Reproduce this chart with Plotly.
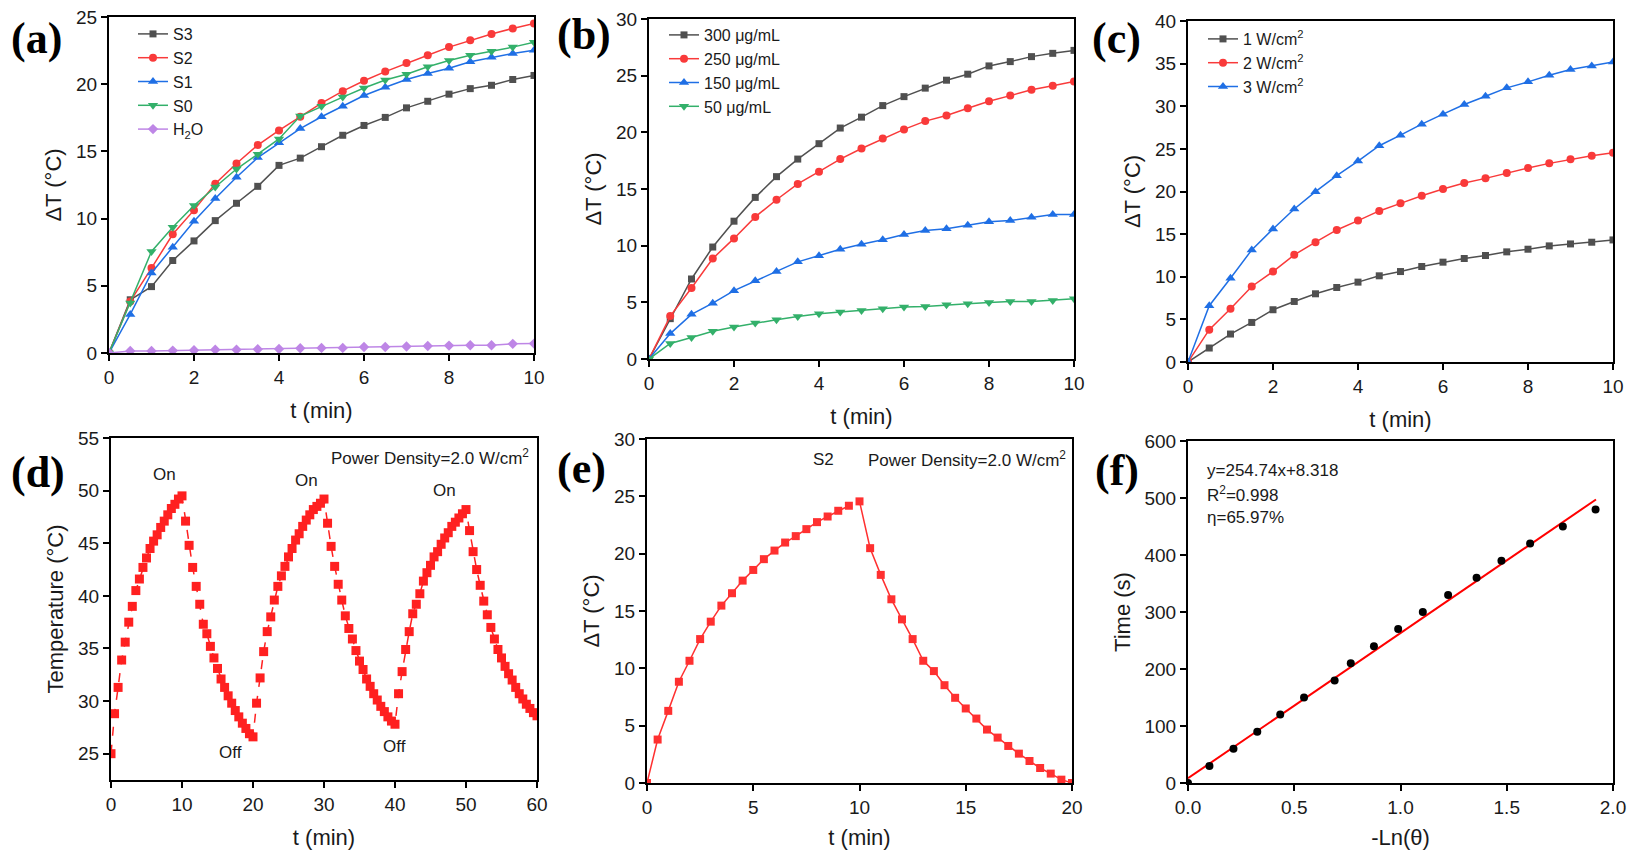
import plotly.graph_objects as go

# page body adds an 8 px margin, so the figure is placed at (8, 8) on screen
OFF = 8
W, H = 1635 - OFF, 858 - 2 * OFF

# ---- (a) dT vs time for samples ----
t_a = [0, 0.5, 1, 1.5, 2, 2.5, 3, 3.5, 4, 4.5, 5, 5.5, 6, 6.5, 7, 7.5, 8, 8.5, 9, 9.5, 10]
s3 = [0, 3.96, 4.94, 6.88, 8.34, 9.85, 11.14, 12.4, 13.96, 14.5, 15.35, 16.2, 16.93, 17.53, 18.24, 18.73, 19.26, 19.67, 19.92, 20.35, 20.65]
s2 = [0, 3.84, 6.32, 8.83, 10.63, 12.6, 14.1, 15.47, 16.56, 17.58, 18.6, 19.48, 20.26, 20.94, 21.57, 22.15, 22.76, 23.27, 23.74, 24.15, 24.51]
s1 = [0, 2.87, 5.96, 7.86, 9.8, 11.5, 13.08, 14.54, 15.64, 16.7, 17.58, 18.36, 19.16, 19.77, 20.35, 20.79, 21.18, 21.67, 22.0, 22.28, 22.52]
s0 = [0, 3.72, 7.56, 9.36, 10.97, 12.35, 13.69, 14.79, 15.93, 17.63, 18.36, 19.04, 19.72, 20.31, 20.74, 21.3, 21.77, 22.15, 22.45, 22.76, 23.13]
h2o = [0, 0.15, 0.15, 0.18, 0.2, 0.25, 0.25, 0.28, 0.3, 0.35, 0.38, 0.38, 0.45, 0.45, 0.48, 0.52, 0.55, 0.58, 0.58, 0.68, 0.7]

# ---- (b) concentrations ----
c300 = [0, 3.56, 7.06, 9.88, 12.16, 14.26, 16.09, 17.64, 19.0, 20.38, 21.34, 22.36, 23.15, 23.9, 24.6, 25.13, 25.86, 26.24, 26.68, 26.97, 27.23]
c250 = [0, 3.79, 6.27, 8.86, 10.64, 12.54, 14.05, 15.45, 16.53, 17.64, 18.57, 19.45, 20.26, 20.99, 21.49, 22.13, 22.74, 23.24, 23.76, 24.11, 24.49]
c150 = [0, 2.24, 3.94, 4.93, 6.03, 6.91, 7.73, 8.57, 9.1, 9.68, 10.12, 10.52, 10.99, 11.34, 11.49, 11.81, 12.1, 12.22, 12.51, 12.74, 12.74]
c50 = [0, 1.37, 1.9, 2.45, 2.83, 3.18, 3.47, 3.76, 3.99, 4.14, 4.29, 4.43, 4.58, 4.64, 4.78, 4.87, 4.99, 5.07, 5.07, 5.16, 5.31]

# ---- (c) power densities ----
p1 = [0, 1.64, 3.28, 4.64, 6.13, 7.1, 8.0, 8.74, 9.37, 10.11, 10.61, 11.2, 11.71, 12.14, 12.49, 12.92, 13.23, 13.62, 13.85, 14.05, 14.32]
p2 = [0, 3.79, 6.24, 8.86, 10.61, 12.57, 14.05, 15.49, 16.59, 17.72, 18.61, 19.51, 20.29, 21.0, 21.54, 22.17, 22.75, 23.3, 23.77, 24.2, 24.55]
p3 = [0, 6.6, 9.83, 13.15, 15.61, 17.95, 19.98, 21.85, 23.57, 25.37, 26.61, 27.9, 29.07, 30.2, 31.18, 32.16, 32.86, 33.64, 34.3, 34.73, 35.2]

# ---- (d) on/off cycles, every 0.5 min ----
t_d = [i * 0.5 for i in range(121)]
temp_d = [
    25.0, 28.8, 31.3, 33.9, 35.6, 37.5, 39.0, 40.5, 41.6, 42.7, 43.6, 44.5, 45.2, 45.8, 46.5, 47.1, 47.7, 48.3, 48.7, 49.2, 49.5,
    47.1, 44.8, 42.7, 40.9, 39.2, 37.3, 36.4, 35.2, 34.1, 33.1, 32.1, 31.3, 30.5, 29.8, 29.1, 28.5, 27.9, 27.4, 26.9, 26.6,
    29.8, 32.2, 34.7, 36.6, 38.0, 39.6, 40.9, 41.9, 42.8, 43.7, 44.5, 45.3, 45.9, 46.6, 47.2, 47.7, 48.2, 48.5, 48.8, 49.2,
    46.9, 44.7, 42.8, 41.1, 39.6, 38.1, 36.9, 35.9, 34.8, 33.8, 33.0, 32.1, 31.4, 30.7, 30.1, 29.5, 29.0, 28.5, 28.1, 27.8,
    30.7, 32.8, 34.9, 36.6, 38.3, 39.2, 40.2, 41.4, 42.2, 42.9, 43.7, 44.2, 44.9, 45.5, 46.0, 46.6, 47.0, 47.4, 47.8, 48.2,
    46.2, 44.2, 42.5, 41.0, 39.5, 38.2, 37.0, 35.9, 34.9, 34.1, 33.3, 32.6, 32.0, 31.3, 30.7, 30.2, 29.7, 29.3, 28.9, 28.6,
]
on_x = [7.6, 27.5, 47.0]
on_y = [51.5, 51.0, 50.0]
off_x = [16.9, 39.9]
off_y = [25.1, 25.7]

# ---- (e) heating / cooling of S2 ----
t_heat = [0, 0.5, 1, 1.5, 2, 2.5, 3, 3.5, 4, 4.5, 5, 5.5, 6, 6.5, 7, 7.5, 8, 8.5, 9, 9.5]
dt_heat = [0, 3.79, 6.29, 8.83, 10.66, 12.55, 14.07, 15.47, 16.55, 17.65, 18.58, 19.52, 20.27, 20.97, 21.53, 22.14, 22.75, 23.24, 23.74, 24.18]
t_cool = [10, 10.5, 11, 11.5, 12, 12.5, 13, 13.5, 14, 14.5, 15, 15.5, 16, 16.5, 17, 17.5, 18, 18.5, 19, 19.5, 20]
dt_cool = [24.56, 20.48, 18.15, 16.02, 14.27, 12.55, 10.66, 9.76, 8.53, 7.43, 6.5, 5.62, 4.66, 3.96, 3.23, 2.56, 1.92, 1.31, 0.82, 0.29, 0.0]

# ---- (f) time vs -ln(theta) ----
ln_theta = [0, 0.101, 0.214, 0.326, 0.434, 0.546, 0.690, 0.766, 0.875, 0.989, 1.105, 1.224, 1.358, 1.475, 1.610, 1.764, 1.918]
time_s = [0, 30, 60, 90, 120, 150, 180, 210, 240, 270, 300, 330, 360, 390, 420, 450, 480]
slope, intercept = 254.74, 8.318
fit_x = [0, 1.92]

GREY = "#505050"
RED = "#F93A3A"
BLUE = "#1F6FE5"
GREEN = "#33B06A"
PURPLE = "#BE86E6"
FONT = "Liberation Sans"

fig = go.Figure()


def add_series(x, y, name, color, symbol, size, xa, ya, legend=None, dash="solid"):
    fig.add_trace(go.Scatter(
        x=x, y=y, name=name, mode="lines+markers",
        line=dict(color=color, width=1.5, dash=dash),
        marker=dict(symbol=symbol, size=size, color=color),
        xaxis=xa, yaxis=ya, legend=legend or "legend",
        showlegend=legend is not None,
    ))


add_series(t_a, s3, "S3", GREY, "square", 7, "x", "y", "legend")
add_series(t_a, s2, "S2", RED, "circle", 8, "x", "y", "legend")
add_series(t_a, s1, "S1", BLUE, "triangle-up", 9, "x", "y", "legend")
add_series(t_a, s0, "S0", GREEN, "triangle-down", 9, "x", "y", "legend")
add_series(t_a, h2o, "H<sub>2</sub>O", PURPLE, "diamond", 8, "x", "y", "legend")

add_series(t_a, c300, "300 μg/mL", GREY, "square", 7, "x2", "y2", "legend2")
add_series(t_a, c250, "250 μg/mL", RED, "circle", 8, "x2", "y2", "legend2")
add_series(t_a, c150, "150 μg/mL", BLUE, "triangle-up", 9, "x2", "y2", "legend2")
add_series(t_a, c50, "50 μg/mL", GREEN, "triangle-down", 9, "x2", "y2", "legend2")

add_series(t_a, p1, "1 W/cm<sup>2</sup>", GREY, "square", 7, "x3", "y3", "legend3")
add_series(t_a, p2, "2 W/cm<sup>2</sup>", RED, "circle", 8, "x3", "y3", "legend3")
add_series(t_a, p3, "3 W/cm<sup>2</sup>", BLUE, "triangle-up", 9, "x3", "y3", "legend3")

add_series(t_d, temp_d, "cycle", "#FF2020", "square", 9, "x4", "y4", dash="dash")
add_series(t_heat, dt_heat, "heat", "#FF3030", "square", 8, "x5", "y5")
add_series(t_cool, dt_cool, "cool", "#FF3030", "square", 8, "x5", "y5")

fig.add_trace(go.Scatter(
    x=fit_x, y=[slope * v + intercept for v in fit_x], mode="lines",
    line=dict(color="#FF0000", width=2), xaxis="x6", yaxis="y6", showlegend=False,
))
fig.add_trace(go.Scatter(
    x=ln_theta, y=time_s, mode="markers",
    marker=dict(symbol="circle", size=8, color="black"),
    xaxis="x6", yaxis="y6", showlegend=False,
))


# screen pixel -> paper fraction
def sx(px):
    return (px - OFF) / W


def sy(py):
    return 1 - (py - OFF) / H


def axis(dom, rng, dtick, title, anchor, letter, fmt=None):
    d = dict(
        domain=dom, range=rng, dtick=dtick, anchor=anchor, automargin=False,
        showline=True, linecolor="black", linewidth=2, mirror=True,
        ticks="outside", ticklen=6, tickwidth=1.5, tickcolor="black",
        showgrid=False, zeroline=False, ticklabeloverflow="allow",
        tickfont=dict(family=FONT, size=19, color="#1a1a1a"),
        title=dict(text=title, font=dict(family=FONT, size=22, color="#1a1a1a"),
                   standoff=16 if letter == "x" else 8),
    )
    if fmt:
        d["tickformat"] = fmt
    return d


def xdom(left, right):
    return [sx(left), sx(right)]


def ydom(top, bottom):
    return [sy(bottom), sy(top)]


layout = dict(
    width=W, height=H, margin=dict(l=0, r=0, t=0, b=0, autoexpand=False),
    paper_bgcolor="white", plot_bgcolor="white",
    font=dict(family=FONT, color="#1a1a1a"),
    xaxis=axis(xdom(109, 534), [0, 10], 2, "t (min)", "y", "x"),
    yaxis=axis(ydom(17, 353), [0, 25], 5, "ΔT (°C)", "x", "y"),
    xaxis2=axis(xdom(649, 1074), [0, 10], 2, "t (min)", "y2", "x"),
    yaxis2=axis(ydom(19, 359), [0, 30], 5, "ΔT (°C)", "x2", "y"),
    xaxis3=axis(xdom(1188, 1613), [0, 10], 2, "t (min)", "y3", "x"),
    yaxis3=axis(ydom(21, 362), [0, 40], 5, "ΔT (°C)", "x3", "y"),
    xaxis4=axis(xdom(111, 537), [0, 60], 10, "t (min)", "y4", "x"),
    yaxis4=axis(ydom(438, 780), [22.5, 55], 5, "Temperature (°C)", "x4", "y"),
    xaxis5=axis(xdom(647, 1072), [0, 20], 5, "t (min)", "y5", "x"),
    yaxis5=axis(ydom(439, 783), [0, 30], 5, "ΔT (°C)", "x5", "y"),
    xaxis6=axis(xdom(1188, 1613), [0, 2], 0.5, "-Ln(θ)", "y6", "x", ".1f"),
    yaxis6=axis(ydom(441, 783), [0, 600], 100, "Time (s)", "x6", "y"),
)


def legend_at(x, y):
    return dict(
        x=sx(x), y=sy(y), xanchor="left", yanchor="top",
        bgcolor="rgba(0,0,0,0)", borderwidth=0, itemwidth=30,
        font=dict(family=FONT, size=16, color="#1a1a1a"), tracegroupgap=0,
    )


layout["legend"] = legend_at(133, 17)
layout["legend2"] = legend_at(664, 18)
layout["legend3"] = legend_at(1203, 22)
fig.update_layout(**layout)

# panel letters
letters = [("(a)", 9, 38), ("(b)", 555, 35), ("(c)", 1090, 38),
           ("(d)", 9, 473), ("(e)", 555, 468), ("(f)", 1093, 470)]
for txt, lx, ly in letters:
    fig.add_annotation(
        text=txt, x=sx(lx), y=sy(ly), xref="paper", yref="paper",
        xanchor="left", yanchor="middle", showarrow=False,
        font=dict(family="Liberation Serif", size=44, color="black", weight="bold"),
    )

note = dict(family=FONT, size=17, color="#1a1a1a")
fig.add_annotation(text="Power Density=2.0 W/cm<sup>2</sup>", x=sx(531), y=sy(457),
                   xref="paper", yref="paper", xanchor="right", yanchor="middle",
                   showarrow=False, font=note)
for ox, oy in zip(on_x, on_y):
    fig.add_annotation(text="On", x=ox, y=oy, xref="x4", yref="y4", showarrow=False, font=note)
for ox, oy in zip(off_x, off_y):
    fig.add_annotation(text="Off", x=ox, y=oy, xref="x4", yref="y4", showarrow=False, font=note)

fig.add_annotation(text="S2", x=sx(823), y=sy(459), xref="paper", yref="paper",
                   xanchor="center", yanchor="middle", showarrow=False, font=note)
fig.add_annotation(text="Power Density=2.0 W/cm<sup>2</sup>", x=sx(1068), y=sy(459),
                   xref="paper", yref="paper", xanchor="right", yanchor="middle",
                   showarrow=False, font=note)

f_lines = ["y=254.74x+8.318", "R<sup>2</sup>=0.998", "η=65.97%"]
f_y = [470, 494, 517]
for txt, ty in zip(f_lines, f_y):
    fig.add_annotation(text=txt, x=sx(1205), y=sy(ty), xref="paper", yref="paper",
                       xanchor="left", yanchor="middle", showarrow=False, font=note)

fig.write_html("out.html")
